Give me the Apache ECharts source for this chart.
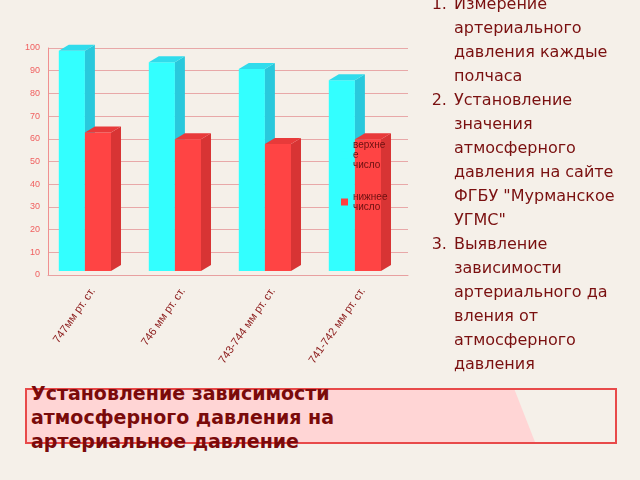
<!DOCTYPE html>
<html><head><meta charset="utf-8">
<script src="https://cdn.jsdelivr.net/npm/echarts@6/dist/echarts.min.js"></script>
<style>
body{margin:0;background:#f5f0e9;font-family:"DejaVu Sans",sans-serif;}
#wrap{position:relative;width:640px;height:480px;overflow:hidden;}
#chart{position:absolute;left:0;top:0;width:420px;height:380px;}
#list{position:absolute;left:412px;top:-8px;width:178px;color:#7a1010;font-size:16px;line-height:24px;margin:0;padding-left:40px;}
#list li{padding-left:2px;}
#box{position:absolute;left:25px;top:388px;width:588px;height:52px;border:2px solid #e84a4a;background:#f5f0e9;}
#box .fill{position:absolute;left:0;top:0;width:508px;height:52px;background:#ffd5d5;clip-path:polygon(0 0,96% 0,100% 100%,0 100%);}
#box .t{position:absolute;left:4px;top:-9px;font-weight:bold;font-size:19px;line-height:24px;color:#7a0a0a;}
</style></head><body>
<div id="wrap">
<div id="chart"></div>
<ol id="list">
<li>Измерение артериального давления каждые полчаса</li>
<li>Установление значения атмосферного давления на сайте ФГБУ "Мурманское УГМС"</li>
<li>Выявление зависимости артериального да вления от атмосферного давления</li>
</ol>
<div id="box"><div class="fill"></div><div class="t">Установление зависимости<br>атмосферного давления на<br>артериальное давление</div></div>
</div>
<script>
const categories=['747мм рт. ст.','746 мм рт. ст.','743-744 мм рт. ст.','741-742 мм рт. ст.'];
const upper=[97,92,89,84];
const lower=[61,58,56,58];

const chart=echarts.init(document.getElementById('chart'));
const dx=10,dy=6;
function bar3d(offset,front,side,top){
  return function(params,api){
    const c=api.value(0),v=api.value(1);
    const band=api.size([1,0])[0];
    const w=band*0.29;
    const p0=api.coord([c,0]);const p1=api.coord([c,v]);
    const x=p0[0]-band*0.38+offset*w;
    const yb=p0[1]-4,yt=p1[1]-4;
    return {type:'group',children:[
      {type:'rect',shape:{x:x,y:yt,width:w,height:yb-yt},style:{fill:front}},
      {type:'polygon',shape:{points:[[x+w,yt],[x+w+dx,yt-dy],[x+w+dx,yb-dy],[x+w,yb]]},style:{fill:side}},
      {type:'polygon',shape:{points:[[x,yt],[x+dx,yt-dy],[x+w+dx,yt-dy],[x+w,yt]]},style:{fill:top}}
    ]};
  };
}
chart.setOption({
  animation:false,
  grid:{left:48,top:48,right:12,bottom:105},
  legend:{left:336,top:135,orient:'vertical',itemWidth:7,itemHeight:7,itemGap:22,icon:'rect',
    textStyle:{color:'#6a1010',fontSize:10,width:60,overflow:'break'},
    formatter:n=>n.replace(' ','\n'),
    data:[{name:'верхнее число',itemStyle:{color:'#33ffff'}},{name:'нижнее число',itemStyle:{color:'#ff4040'}}]},
  xAxis:{type:'category',data:categories,axisTick:{show:false},
    axisLine:{lineStyle:{color:'#e8a0a0'}},
    axisLabel:{rotate:55,color:'#8b1a1a',fontSize:11,interval:0,margin:14}},
  yAxis:{type:'value',min:0,max:100,interval:10,
    axisLine:{show:true,lineStyle:{color:'#f09090'}},
    axisLabel:{color:'#f06060',fontSize:9},
    splitLine:{lineStyle:{color:'#e8a8a8'}}},
  series:[
    {name:'верхнее число',type:'custom',renderItem:bar3d(0,'#33ffff','#29c8dc','#30dcec'),
      itemStyle:{color:'#33ffff'},data:upper.map((v,i)=>[i,v])},
    {name:'нижнее число',type:'custom',renderItem:bar3d(1,'#ff4444','#d83434','#e83a3a'),
      itemStyle:{color:'#ff4040'},data:lower.map((v,i)=>[i,v])}
  ]
});
</script>
</body></html>
